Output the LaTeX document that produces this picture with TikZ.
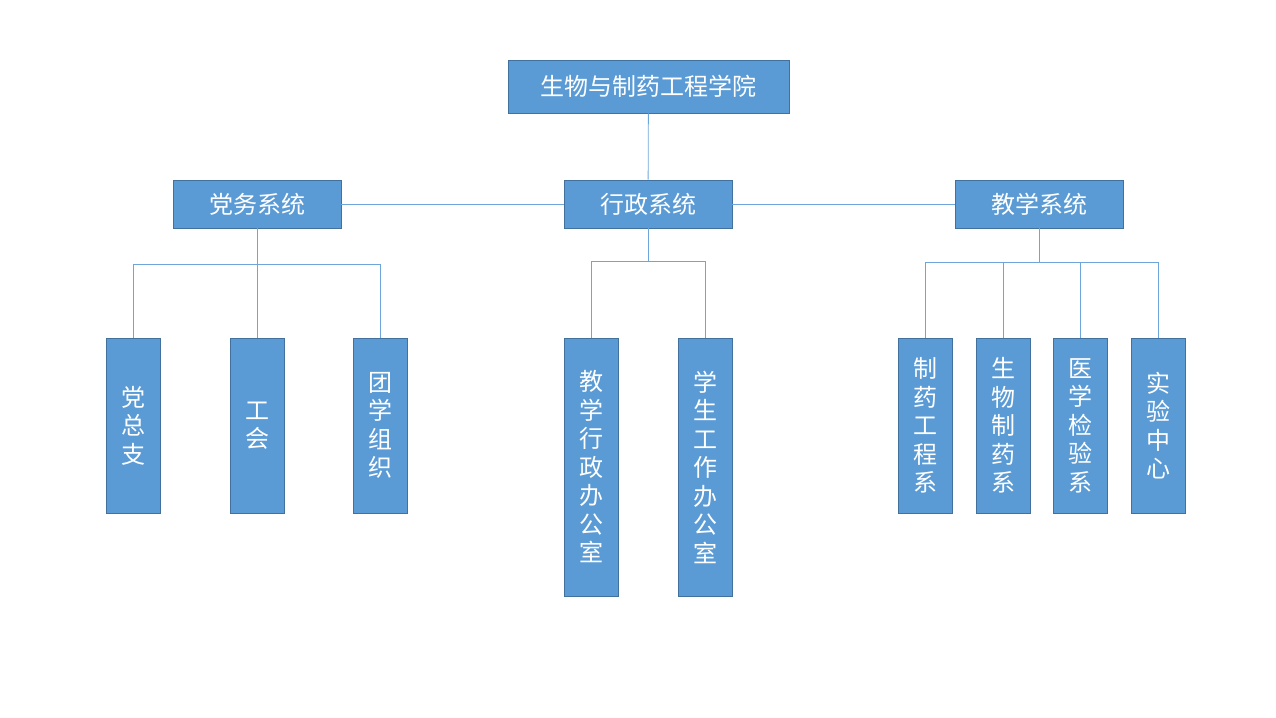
\documentclass[tikz,border=0pt]{standalone}
\usepackage{fontspec}
\setmainfont{Noto Sans CJK SC}
\usepackage{tikz}

\definecolor{boxfill}{HTML}{5B9BD5}
\definecolor{boxline}{HTML}{41719C}
\definecolor{linkcol}{HTML}{6FA6D9}

\tikzset{
  unit/.style={rectangle,draw=boxline,fill=boxfill,text=white,inner sep=0pt,line width=0.8pt,
    font=\fontsize{24}{28.5}\selectfont},
  head/.style={unit,minimum width=281pt,minimum height=53pt},
  branch/.style={unit,minimum width=168pt,minimum height=48pt},
  leaf/.style={unit,minimum width=54pt,minimum height=175pt,align=center},
  longleaf/.style={leaf,minimum height=258pt},
  link/.style={draw=linkcol,line width=0.8pt}
}

\begin{document}
\begin{tikzpicture}[x=1pt,y=-1pt]

	\useasboundingbox (0,0) rectangle (1276,717);

	\node[head] (top) at (648.5, 86.5)   {生物与制药工程学院};

	\node[branch] (dw) at (257, 204)     {党务系统};
	\node[branch] (xz) at (648, 204)     {行政系统};
	\node[branch] (jx) at (1039, 204)    {教学系统};

	\node[leaf] (dzz) at (133.5, 425.5)  {党\\总\\支};
	\node[leaf] (gh) at (257, 425.5)     {工\\会};
	\node[leaf] (tx) at (380.5, 425.5)   {团\\学\\组\\织};

	\node[longleaf] (jxb) at (591, 467)  {教\\学\\行\\政\\办\\公\\室};
	\node[longleaf] (xsb) at (705, 467)  {学\\生\\工\\作\\办\\公\\室};

	\node[leaf] (zygc) at (925.5, 425.5) {制\\药\\工\\程\\系};
	\node[leaf] (swzy) at (1003, 425.5)  {生\\物\\制\\药\\系};
	\node[leaf] (yxjy) at (1080.5, 425.5) {医\\学\\检\\验\\系};
	\node[leaf] (syzx) at (1158.5, 425.5) {实\\验\\中\\心};

	\coordinate (dwbus) at (257, 264);
	\coordinate (xzbus) at (648, 261);
	\coordinate (jxbus) at (1039, 262);

	\path[link] (top) -- (xz);
	\path[link] (dw) -- (xz);
	\path[link] (xz) -- (jx);

	\path[link] (dw) -- (dwbus);
	\path[link] (dwbus) -| (dzz.north);
	\path[link] (dwbus) -- (gh.north);
	\path[link] (dwbus) -| (tx.north);

	\path[link] (xz) -- (xzbus);
	\path[link] (xzbus) -| (jxb.north);
	\path[link] (xzbus) -| (xsb.north);

	\path[link] (jx) -- (jxbus);
	\path[link] (jxbus) -| (zygc.north);
	\path[link] (jxbus) -| (swzy.north);
	\path[link] (jxbus) -| (yxjy.north);
	\path[link] (jxbus) -| (syzx.north);
	\end{tikzpicture}
\end{document}
